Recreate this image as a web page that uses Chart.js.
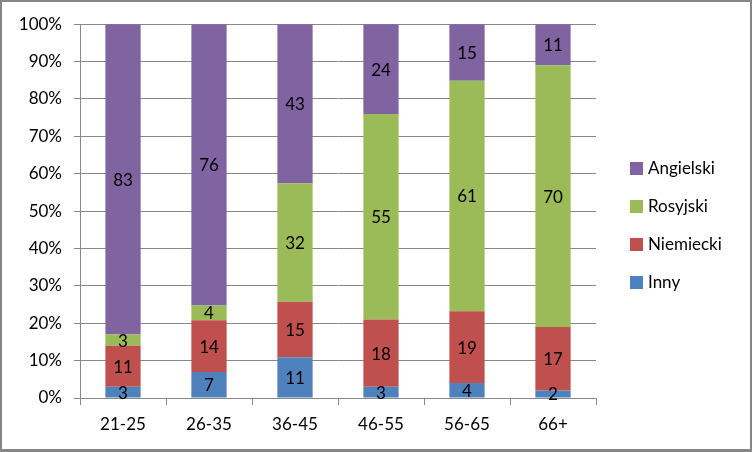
<!DOCTYPE html>
<html>
<head>
<meta charset="utf-8">
<script src="https://cdn.jsdelivr.net/npm/chart.js@4/dist/chart.umd.min.js"></script>
<style>
  html, body { margin: 0; padding: 0; background: #fff; }
  #wrap { width: 752px; height: 452px; box-sizing: border-box; border: 2px solid #868686; border-bottom-width: 3px; background: #fff; }
  canvas { display: block; }
</style>
</head>
<body>
<div id="wrap"><canvas id="c" width="748" height="447"></canvas></div>
<script>
const categories = ['21-25', '26-35', '36-45', '46-55', '56-65', '66+'];
const inny      = [3, 7, 11, 3, 4, 2];
const niemiecki = [11, 14, 15, 18, 19, 17];
const rosyjski  = [3, 4, 32, 55, 61, 70];
const angielski = [83, 76, 43, 24, 15, 11];
const seriesNames = ['Inny', 'Niemiecki', 'Rosyjski', 'Angielski'];
const yTicks = [0, 10, 20, 30, 40, 50, 60, 70, 80, 90, 100];

const rawSeries = [inny, niemiecki, rosyjski, angielski];
const colors = ['#4F81BD', '#C0504D', '#9BBB59', '#8064A2'];
const totals = categories.map((_, j) => rawSeries.reduce((s, arr) => s + arr[j], 0));
const FONT = 'Lato, "Open Sans", sans-serif';

const datasets = rawSeries.map((arr, i) => ({
  label: seriesNames[i],
  data: arr.map((v, j) => v / totals[j] * 100),
  raw: arr,
  backgroundColor: colors[i],
  borderWidth: 0,
  categoryPercentage: 1,
  barPercentage: 0.41
}));

const valueLabels = {
  id: 'valueLabels',
  afterDatasetsDraw(chart) {
    const ctx = chart.ctx;
    ctx.save();
    ctx.font = '17px ' + FONT;
    ctx.fillStyle = '#000';
    ctx.textAlign = 'center';
    ctx.textBaseline = 'middle';
    chart.data.datasets.forEach((ds, i) => {
      const meta = chart.getDatasetMeta(i);
      meta.data.forEach((bar, j) => {
        const y = (bar.y + bar.base) / 2;
        ctx.fillText(String(ds.raw[j]), bar.x, y + 1);
      });
    });
    ctx.restore();
  }
};

const sideLegend = {
  id: 'sideLegend',
  afterDraw(chart) {
    const ctx = chart.ctx;
    ctx.save();
    ctx.font = '17px ' + FONT;
    ctx.textAlign = 'left';
    ctx.textBaseline = 'middle';
    const items = chart.data.datasets.slice().reverse();
    const x0 = chart.chartArea.right + 34;
    let y = 166;
    items.forEach(ds => {
      ctx.fillStyle = ds.backgroundColor;
      ctx.fillRect(x0, y - 6, 13, 13);
      ctx.fillStyle = '#000';
      ctx.fillText(ds.label, x0 + 18, y + 1);
      y += 38;
    });
    ctx.restore();
  }
};

new Chart(document.getElementById('c'), {
  type: 'bar',
  data: { labels: categories, datasets },
  options: {
    responsive: false,
    animation: false,
    layout: { padding: { top: 21, right: 154, left: 0, bottom: 0 } },
    plugins: { legend: { display: false }, tooltip: { enabled: false } },
    scales: {
      x: {
        stacked: true,
        offset: true,
        grid: { display: true, drawOnChartArea: false, drawTicks: true, tickLength: 7, color: '#888', offset: true },
        border: { display: true, color: '#888', width: 1 },
        ticks: { color: '#000', font: { family: FONT, size: 17 }, padding: 9, maxRotation: 0 },
        afterFit(scale) { scale.height = 51; }
      },
      y: {
        stacked: true,
        min: 0,
        max: 100,
        afterBuildTicks(scale) { scale.ticks = yTicks.map(v => ({ value: v })); },
        grid: { color: '#888', drawTicks: true, tickLength: 6 },
        border: { display: true, color: '#888', width: 1 },
        ticks: { color: '#000', font: { family: FONT, size: 17 }, padding: 12, callback: v => v + '%' },
        afterFit(scale) { scale.width = 78; }
      }
    }
  },
  plugins: [valueLabels, sideLegend]
});
</script>
</body>
</html>
